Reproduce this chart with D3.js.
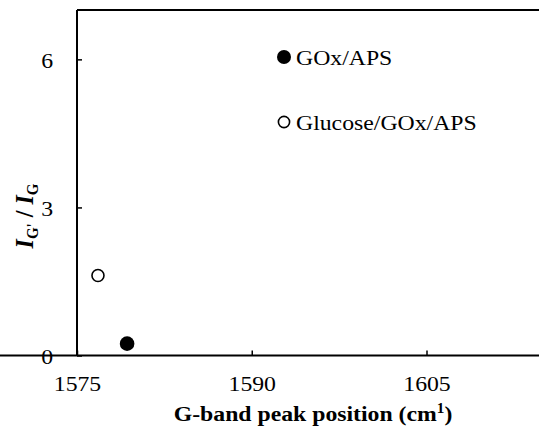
<!DOCTYPE html>
<html><head><meta charset="utf-8">
<script src="https://cdn.jsdelivr.net/npm/d3@7"></script>
<style>body{margin:0;background:#fff}svg{display:block}</style>
</head><body>
<svg id="c" width="539" height="432"></svg>
<script>
const seriesNames = ["GOx/APS", "Glucose/GOx/APS"];
const seriesFilled = [true, false];
const xValues = [[1579.3], [1576.8]];
const yValues = [[0.24], [1.62]];
const xTicks = [1575, 1590, 1605];
const yTicks = [0, 3, 6];

const FONT = "'Liberation Serif', 'Times New Roman', Times, serif";
const SX = 1.08; // horizontal stretch of the reference text
const svg = d3.select("#c").style("font-family", FONT);
const x = d3.scaleLinear().domain([1575, 1615]).range([77, 543]);
const y = d3.scaleLinear().domain([0, 7]).range([355.5, 10]);

// frame top
svg.append("path").attr("d", `M${x(1575)},${y(7)}H545`).attr("stroke", "#000").attr("stroke-width", 2).attr("fill", "none");

const xa = svg.append("g").attr("transform", `translate(0,${y(0)})`)
  .call(d3.axisBottom(x).tickValues(xTicks).tickFormat(d3.format("d")).tickSizeInner(-5).tickSizeOuter(0).tickPadding(20));
const ya = svg.append("g").attr("transform", `translate(${x(1575)},0)`)
  .call(d3.axisLeft(y).tickValues(yTicks).tickFormat(d3.format("d")).tickSizeInner(-5).tickSizeOuter(0).tickPadding(24));
[xa, ya].forEach(a => {
  a.attr("font-family", null).attr("font-size", null);
  a.select(".domain").attr("stroke-width", 2).attr("stroke", "#000");
  a.selectAll(".tick line").attr("stroke-width", 1.5).attr("stroke", "#000");
  a.selectAll(".tick text").style("font-size", "22px").style("font-family", FONT).attr("fill", "#000");
});
xa.selectAll(".tick text").attr("transform", `scale(${SX},1)`);
ya.selectAll(".tick text").each(function() {
  const t = d3.select(this); const xx = +t.attr("x");
  t.attr("transform", `translate(${xx},0) scale(${SX},1)`).attr("x", 0).attr("dy", "0.36em");
});
ya.select(".domain").attr("d", `M0,${y(7)}V${y(0)}`);
xa.select(".domain").attr("d", `M0,0H545`);

// points
seriesNames.forEach((name, i) => {
  const pts = xValues[i].map((v, j) => [v, yValues[i][j]]);
  svg.selectAll(null).data(pts).enter().append("circle")
    .attr("cx", d => x(d[0])).attr("cy", d => y(d[1]))
    .attr("r", seriesFilled[i] ? 7.3 : 6)
    .attr("fill", seriesFilled[i] ? "#000" : "#fff")
    .attr("stroke", "#000").attr("stroke-width", seriesFilled[i] ? 0 : 1.6);
});

// legend
const lg = svg.append("g");
seriesNames.forEach((name, i) => {
  const ly = 57 + i * 65;
  lg.append("circle").attr("cx", 284).attr("cy", ly).attr("r", seriesFilled[i] ? 7 : 5.6)
    .attr("fill", seriesFilled[i] ? "#000" : "#fff").attr("stroke", "#000").attr("stroke-width", seriesFilled[i] ? 0 : 1.6);
  lg.append("text").attr("transform", `translate(296,${ly + 8}) scale(${SX},1)`)
    .style("font-size", "22px").style("font-family", FONT).text(name);
});

// x label
const xl = svg.append("text").attr("transform", `translate(313,421) scale(${SX},1)`).attr("text-anchor", "middle")
  .style("font-size", "22px").style("font-weight", "bold").style("font-family", FONT);
xl.append("tspan").text("G-band peak position (cm");
xl.append("tspan").style("font-size", "14px").attr("dy", -8).text("1");
xl.append("tspan").attr("dy", 8).text(")");

// y label
const yl = svg.append("text").attr("transform", `translate(33,216) rotate(-90) scale(1,${SX})`).attr("text-anchor", "middle")
  .style("font-size", "24px").style("font-weight", "bold").style("font-family", FONT);
yl.append("tspan").style("font-style", "italic").text("I");
yl.append("tspan").style("font-size", "15px").attr("dy", 5).text("G'");
yl.append("tspan").attr("dy", -5).text(" / ");
yl.append("tspan").style("font-style", "italic").text("I");
yl.append("tspan").style("font-size", "15px").attr("dy", 5).text("G");
</script>
</body></html>
